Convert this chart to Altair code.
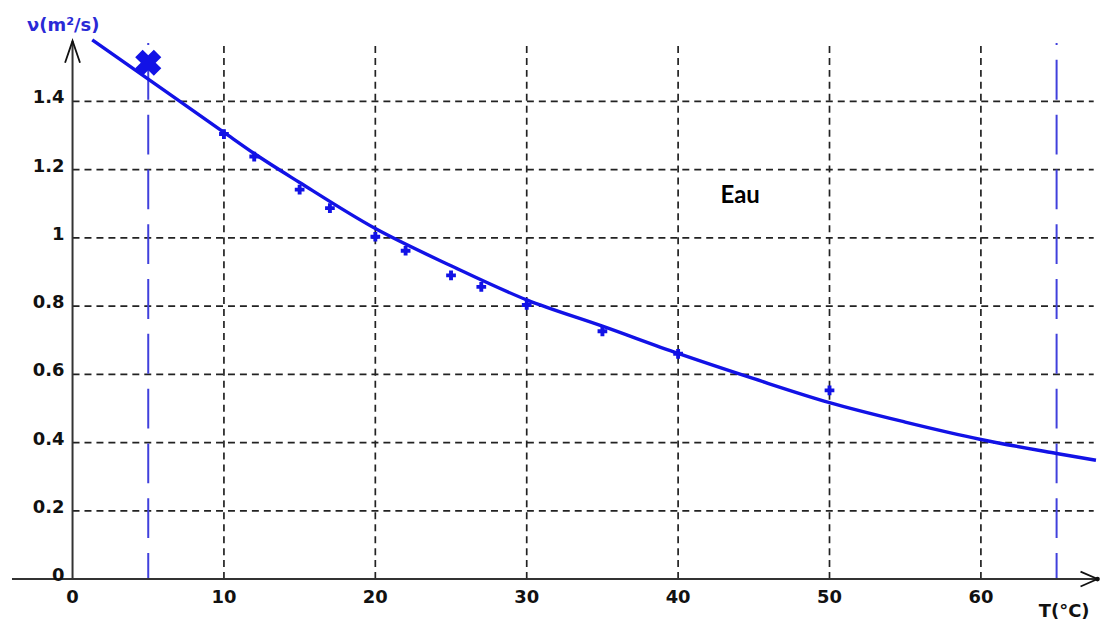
import altair as alt
import pandas as pd

# ---- data ----
T_POINTS = [10, 12, 15, 17, 20, 22, 25, 27, 30, 35, 40, 50]
NU_POINTS = [1.304, 1.238, 1.141, 1.087, 1.003, 0.962, 0.890, 0.856, 0.803, 0.726, 0.660, 0.553]

T_MARK = [5]
NU_MARK = [1.513]

T_CURVE = [1.3, 5, 10, 12, 15, 20, 25, 30, 35, 40, 45, 50, 55, 60, 65, 67.6]
NU_CURVE = [1.58, 1.465, 1.309, 1.247, 1.162, 1.027, 0.918, 0.818, 0.741, 0.661,
            0.587, 0.517, 0.46, 0.409, 0.368, 0.348]

X_GRID = [10, 20, 30, 40, 50, 60]
Y_GRID = [0.2, 0.4, 0.6, 0.8, 1.0, 1.2, 1.4]
X_TICKS = [0, 10, 20, 30, 40, 50, 60]
X_TICK_LABELS = ["0", "10", "20", "30", "40", "50", "60"]
Y_TICKS = [0, 0.2, 0.4, 0.6, 0.8, 1.0, 1.2, 1.4]
Y_TICK_LABELS = ["0", "0.2", "0.4", "0.6", "0.8", "1", "1.2", "1.4"]
V_LINES = [5, 65]

X_MIN, X_MAX = -4, 68
Y_MIN, Y_MAX = 0, 1.6
AXIS_TOP = 1.577
X_AXIS_END = 67.7
GRID_RIGHT = 67.45
VLINE_TOP = 1.571

TITLE_TEXT = ["Eau"]
TITLE_POS = [(44.1, 1.121)]
Y_TITLE = ["ν(m²/s)"]
Y_TITLE_POS = [(-3.0, 1.62)]
X_TITLE = ["T(°C)"]
X_TITLE_POS = [(65.5, -0.098)]

# ---- styles ----
BLUE = "#1212e6"
DASH_BLUE = "#4040dc"
GRID = "#222222"
AXIS = "#333333"

xs = alt.Scale(domain=[X_MIN, X_MAX], nice=False, zero=False)
ys = alt.Scale(domain=[Y_MIN, Y_MAX], nice=False, zero=False)


def X(f):
    return alt.X(f, type="quantitative", scale=xs, axis=None)


def Y(f):
    return alt.Y(f, type="quantitative", scale=ys, axis=None)


vgrid = alt.Chart(pd.DataFrame({"x": X_GRID, "y0": [0] * len(X_GRID), "y1": [AXIS_TOP] * len(X_GRID)})).mark_rule(
    color=GRID, strokeWidth=1.7, strokeDash=[7, 5]
).encode(x=X("x"), y=Y("y0"), y2="y1")

hgrid = alt.Chart(pd.DataFrame({"y": Y_GRID, "x0": [0] * len(Y_GRID), "x1": [GRID_RIGHT] * len(Y_GRID)})).mark_rule(
    color=GRID, strokeWidth=1.7, strokeDash=[7, 5]
).encode(y=Y("y"), x=X("x0"), x2="x1")

vblue = alt.Chart(pd.DataFrame({"x": V_LINES, "y0": [VLINE_TOP] * 2, "y1": [0] * 2})).mark_rule(
    color=DASH_BLUE, strokeWidth=2, strokeDash=[40, 15], strokeDashOffset=38
).encode(x=X("x"), y=Y("y0"), y2="y1")

yaxis = alt.Chart(pd.DataFrame({"x": [0], "y0": [0], "y1": [AXIS_TOP]})).mark_rule(
    color=AXIS, strokeWidth=2
).encode(x=X("x"), y=Y("y0"), y2="y1")

xaxis = alt.Chart(pd.DataFrame({"y": [0], "x0": [X_MIN], "x1": [X_AXIS_END]})).mark_rule(
    color=AXIS, strokeWidth=2
).encode(y=Y("y"), x=X("x0"), x2="x1")

yarrow = alt.Chart(pd.DataFrame({"x": [0], "y": [AXIS_TOP]})).mark_point(
    shape="M-0.75,2.2L0,0L0.75,2.2", size=400, filled=False, color="#111", strokeWidth=1.8, opacity=1
).encode(x=X("x"), y=Y("y"))

xarrow = alt.Chart(pd.DataFrame({"x": [X_AXIS_END], "y": [0]})).mark_point(
    shape="M-1.7,-0.75L0,0L-1.7,0.75", size=400, filled=False, color="#111", strokeWidth=1.8, opacity=1
).encode(x=X("x"), y=Y("y"))

xdot = alt.Chart(pd.DataFrame({"x": [X_AXIS_END], "y": [0]})).mark_point(
    shape="circle", size=22, filled=True, color="#111", opacity=1
).encode(x=X("x"), y=Y("y"))

curve = alt.Chart(pd.DataFrame({"x": T_CURVE, "y": NU_CURVE})).mark_line(
    color=BLUE, strokeWidth=3.4, interpolate="monotone"
).encode(x=X("x"), y=Y("y"))

pts = alt.Chart(pd.DataFrame({"x": T_POINTS, "y": NU_POINTS})).mark_point(
    shape="cross", size=95, filled=True, color=BLUE, opacity=1
).encode(x=X("x"), y=Y("y"))

mark = alt.Chart(pd.DataFrame({"x": T_MARK, "y": NU_MARK})).mark_point(
    shape="cross", angle=45, size=700, filled=True, color=BLUE, opacity=1
).encode(x=X("x"), y=Y("y"))

ylabels = alt.Chart(pd.DataFrame({"y": Y_TICKS, "t": Y_TICK_LABELS, "x": [0] * len(Y_TICKS)})).mark_text(
    align="right", baseline="middle", dx=-8, dy=-3, font="DejaVu Sans", fontWeight="bold", fontSize=18, color="#111"
).encode(x=X("x"), y=Y("y"), text="t:N")

xlabels = alt.Chart(pd.DataFrame({"x": X_TICKS, "t": X_TICK_LABELS, "y": [0] * len(X_TICKS)})).mark_text(
    align="center", baseline="middle", dy=19, font="DejaVu Sans", fontWeight="bold", fontSize=18, color="#111"
).encode(x=X("x"), y=Y("y"), text="t:N")

title = alt.Chart(pd.DataFrame({"x": [p[0] for p in TITLE_POS], "y": [p[1] for p in TITLE_POS], "t": TITLE_TEXT})).mark_text(
    align="center", baseline="middle", font="Lato", fontWeight="bold", fontSize=24, color="#000"
).encode(x=X("x"), y=Y("y"), text="t:N")

ytitle = alt.Chart(pd.DataFrame({"x": [p[0] for p in Y_TITLE_POS], "y": [p[1] for p in Y_TITLE_POS], "t": Y_TITLE})).mark_text(
    align="left", baseline="middle", font="DejaVu Sans", fontWeight="bold", fontSize=18, color="#2a2ad6"
).encode(x=X("x"), y=Y("y"), text="t:N")

xtitle = alt.Chart(pd.DataFrame({"x": [p[0] for p in X_TITLE_POS], "y": [p[1] for p in X_TITLE_POS], "t": X_TITLE})).mark_text(
    align="center", baseline="middle", font="DejaVu Sans", fontWeight="bold", fontSize=18, color="#111"
).encode(x=X("x"), y=Y("y"), text="t:N")

chart = alt.layer(
    vgrid, hgrid, vblue, yaxis, xaxis, yarrow, xarrow, xdot,
    curve, pts, mark, ylabels, xlabels, title, ytitle, xtitle
).properties(
    width=1094,
    height=548,
    padding={"left": 4, "top": 24, "right": 4, "bottom": 44},
    autosize=alt.AutoSizeParams(type="none"),
    background="white",
).configure_view(stroke=None)

chart.save("out.html", embed_options={"renderer": "svg", "actions": False})
